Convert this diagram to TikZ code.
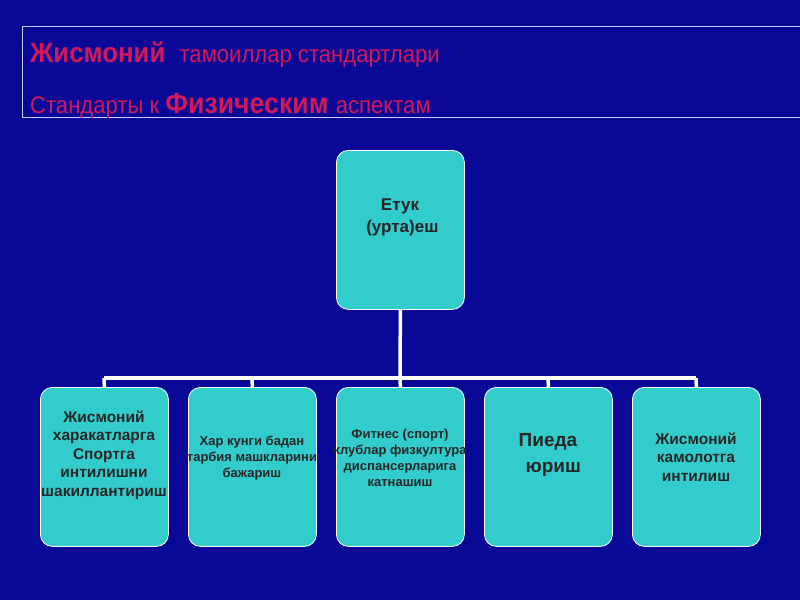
\documentclass[tikz,border=0pt]{standalone}
\usepackage{fontspec}
\setmainfont{Liberation Sans}
\begin{document}
\begin{tikzpicture}[x=1pt,y=-1pt,
  box/.style={draw=white,line width=0.8pt,fill=boxc,rounded corners=12pt,minimum width=128pt,minimum height=159pt,anchor=north west,inner sep=0pt,text=black!85,font=\bfseries,align=center},
  conn/.style={draw=white,line width=3.5pt},
  lab/.style={align=center,text=black!85,inner sep=0pt},
  head/.style={text=headc,anchor=base west,inner sep=0pt,xscale=0.92}]
\definecolor{bg}{HTML}{0A0896}
\definecolor{boxc}{HTML}{33CCCC}
\definecolor{headc}{HTML}{D0185A}
\fill[bg] (0,0) rectangle (800,600);
\useasboundingbox (0,0) rectangle (800,600);
\draw[white!80!blue,line width=0.8pt] (22,26) -- (800,26);
\draw[white!80!blue,line width=0.8pt] (22,26) -- (22,117) -- (800,117);
\node[head] (h1) at (30,62) {\fontsize{28}{30}\selectfont\bfseries Жисмоний\ \ \fontsize{24}{26}\selectfont\mdseries тамоиллар стандартлари};
\node[head] (h2) at (30,113) {\fontsize{24}{26}\selectfont Стандарты к \fontsize{29}{30}\selectfont\bfseries Физическим\ \fontsize{24}{26}\mdseries\selectfont аспектам};
\node[box] (top) at (336,150) {};
\node[lab,font=\bfseries\fontsize{17}{22}\selectfont] (tt) at (400,217) {Етук\\\ (урта)еш};
\coordinate (j) at (400,378);
\foreach \i/\x in {1/40,2/188,3/336,4/484,5/632}{
  \node[box] (b\i) at (\x,387) {};
  \coordinate (t\i) at (\x+64,378);
}
\draw[conn] (top.south) -- (j);
\draw[conn] (t1) -- (t5);
\foreach \i in {1,...,5}{\draw[conn] (t\i) -- (b\i.north);}
\node[lab,font=\bfseries\fontsize{15.5}{18.5}\selectfont] (l1) at (104,455) {Жисмоний\\харакатларга\\Спортга\\интилишни\\шакиллантириш};
\node[lab,font=\bfseries\fontsize{13}{16}\selectfont] (l2) at (252,458) {Хар кунги бадан\\тарбия машкларини\\бажариш};
\node[lab,font=\bfseries\fontsize{13}{16}\selectfont] (l3) at (400,458) {Фитнес (спорт)\\клублар физкултура\\диспансерларига\\катнашиш};
\node[lab,font=\bfseries\fontsize{19}{26}\selectfont] (l4) at (548,455) {Пиеда\\\ \ юриш};
\node[lab,font=\bfseries\fontsize{15.5}{18.5}\selectfont] (l5) at (696,457) {Жисмоний\\камолотга\\интилиш};
\end{tikzpicture}
\end{document}
